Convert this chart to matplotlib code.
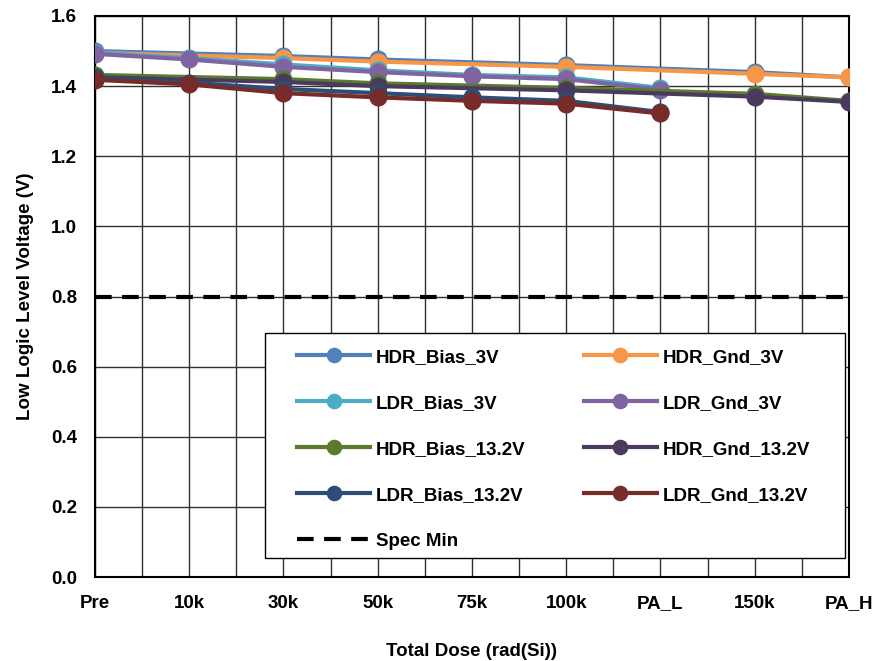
import matplotlib.pyplot as plt
import matplotlib.patches as patches
import numpy as np

plt.rcParams['font.family'] = ['Liberation Sans', 'DejaVu Sans']
plt.rcParams['font.weight'] = 'bold'

#- Dose steps and low logic level readings (V)
categories = ['Pre', '10k', '30k', '50k', '75k', '100k', 'PA_L', '150k', 'PA_H']

hdr_bias_3v = [1.500, None, 1.486, 1.476, None, 1.460, None, 1.440, 1.425]
hdr_gnd_3v = [1.495, None, 1.480, 1.470, None, 1.455, None, 1.435, 1.425]
ldr_bias_3v = [1.495, 1.480, 1.462, 1.445, 1.432, 1.425, 1.395, None, None]
ldr_gnd_3v = [1.492, 1.476, 1.455, 1.440, 1.428, 1.420, 1.390, None, None]
hdr_bias_13v = [1.432, None, 1.420, 1.408, None, 1.395, None, 1.378, 1.358]
hdr_gnd_13v = [1.425, None, 1.412, 1.400, None, 1.388, None, 1.370, 1.355]
ldr_bias_13v = [1.422, 1.410, 1.392, 1.380, 1.368, 1.358, 1.326, None, None]
ldr_gnd_13v = [1.418, 1.405, 1.380, 1.368, 1.358, 1.350, 1.322, None, None]
spec_min = 0.8
err = 0.015

series = [
    ('HDR_Bias_3V', hdr_bias_3v, '#4F81BD'),
    ('HDR_Gnd_3V', hdr_gnd_3v, '#F79646'),
    ('LDR_Bias_3V', ldr_bias_3v, '#4BACC6'),
    ('LDR_Gnd_3V', ldr_gnd_3v, '#8064A2'),
    ('HDR_Bias_13.2V', hdr_bias_13v, '#5A7A2E'),
    ('HDR_Gnd_13.2V', hdr_gnd_13v, '#4A3B5E'),
    ('LDR_Bias_13.2V', ldr_bias_13v, '#2C4D75'),
    ('LDR_Gnd_13.2V', ldr_gnd_13v, '#772C2A'),
]

f = plt.figure(figsize=(8.77, 6.61), dpi=100)
ax = f.add_axes([0.1083, 0.127, 0.8597, 0.8488])

handles = {}
for name, vals, col in series:
    x = np.array([i for i, v in enumerate(vals) if v is not None])
    y = np.array([v for v in vals if v is not None])
    ax.errorbar(x, y, yerr=err, fmt='none', ecolor='#707070', elinewidth=1.5,
                capsize=4, capthick=1.5, zorder=3)
    h, = ax.plot(x, y, '-o', color=col, lw=3, markersize=12, label=name, zorder=4)
    handles[name] = h

spec, = ax.plot([0, len(categories) - 1], [spec_min, spec_min], color='black',
                lw=3, dashes=(4, 2.5), label='Spec Min', zorder=4)
handles['Spec Min'] = spec

ax.set_xlim(0, len(categories) - 1)
ax.set_ylim(0, 1.6)
ax.set_xticks(range(len(categories)))
ax.set_xticklabels(categories)
ax.set_xticks(np.arange(0.5, len(categories) - 1, 1.0), minor=True)
ax.set_yticks(np.arange(0, 1.61, 0.2))
ax.yaxis.set_major_formatter(plt.FormatStrFormatter('%.1f'))
ax.tick_params(which='both', length=0, labelsize=13.5, pad=13)
ax.grid(which='both', color='#303030', lw=1, zorder=0)
for s in ax.spines.values():
    s.set_linewidth(1.5)
    s.set_color('black')

ax.set_xlabel('Total Dose (rad(Si))', fontsize=13.5, fontweight='bold', labelpad=22)
ax.set_ylabel('Low Logic Level Voltage (V)', fontsize=13.5, fontweight='bold', labelpad=12)

#- Legend box drawn as a patch, entries filled row by row in two columns
box = patches.Rectangle((0.2255, 0.034), 0.769, 0.401, transform=ax.transAxes,
                        facecolor='white', edgecolor='black', lw=1, zorder=9)
ax.add_patch(box)
order = ['HDR_Bias_3V', 'LDR_Bias_3V', 'HDR_Bias_13.2V', 'LDR_Bias_13.2V', 'Spec Min',
         'HDR_Gnd_3V', 'LDR_Gnd_3V', 'HDR_Gnd_13.2V', 'LDR_Gnd_13.2V']
leg = ax.legend([handles[k] for k in order], order, ncol=2, loc='upper left',
                bbox_to_anchor=(0.268, 0.407), borderaxespad=0, borderpad=0,
                fontsize=13.5, frameon=False,
                handlelength=3.9, handletextpad=0.32, labelspacing=1.54,
                columnspacing=3.1, markerscale=0.85)
leg.set_zorder(10)

f.savefig('out.png', dpi=100)
